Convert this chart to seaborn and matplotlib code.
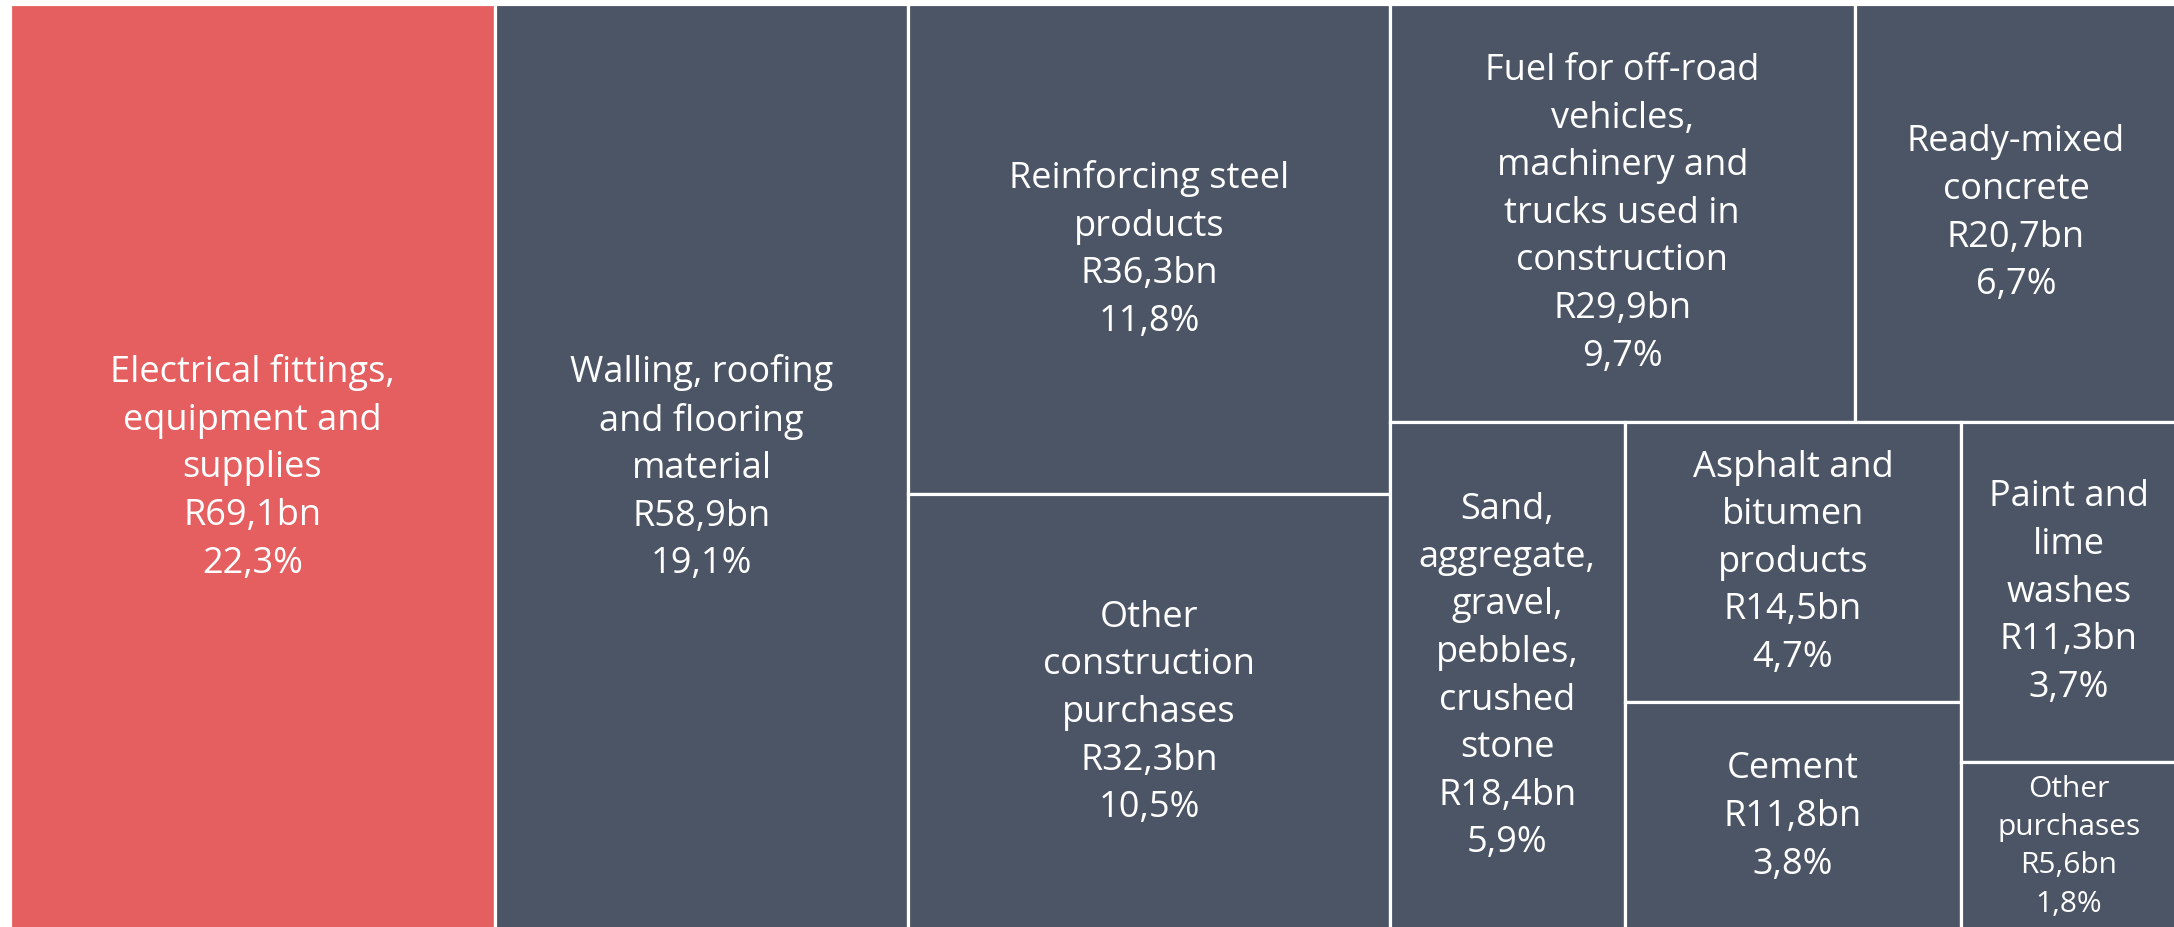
import matplotlib
matplotlib.use("Agg")
import matplotlib.pyplot as plt
from matplotlib.patches import Rectangle
import seaborn as sns

# ---- data ----
categories = [
    "Electrical fittings,\nequipment and\nsupplies",
    "Walling, roofing\nand flooring\nmaterial",
    "Reinforcing steel\nproducts",
    "Other\nconstruction\npurchases",
    "Fuel for off-road\nvehicles,\nmachinery and\ntrucks used in\nconstruction",
    "Ready-mixed\nconcrete",
    "Sand,\naggregate,\ngravel,\npebbles,\ncrushed\nstone",
    "Asphalt and\nbitumen\nproducts",
    "Cement",
    "Paint and\nlime\nwashes",
    "Other\npurchases",
]
values_bn = [69.1, 58.9, 36.3, 32.3, 29.9, 20.7, 18.4, 14.5, 11.8, 11.3, 5.6]
shares_pct = [22.3, 19.1, 11.8, 10.5, 9.7, 6.7, 5.9, 4.7, 3.8, 3.7, 1.8]
highlight = [True] + [False] * 10

# ---- treemap structure (as rendered by the source tool) ----
structure = ("h", [0, 1, ("v", [2, 3]),
                   ("v", [("h", [4, 5]),
                          ("h", [6, ("v", [7, 8]), ("v", [9, 10])])])])


def node_sum(node):
    if isinstance(node, int):
        return values_bn[node]
    return sum(node_sum(c) for c in node[1])


def layout(node, x, y, w, h, out):
    if isinstance(node, int):
        out[node] = (x, y, w, h)
        return
    kind, children = node
    tot = node_sum(node)
    pos = 0.0
    for c in children:
        f = node_sum(c) / tot
        if kind == "h":
            layout(c, x + pos * w, y, f * w, h, out)
        else:
            layout(c, x, y + pos * h, w, f * h, out)
        pos += f


sns.set_theme(style="white")
plt.rcParams["font.family"] = ["Open Sans", "DejaVu Sans"]

W_PX, H_PX = 2174, 928
fig = plt.figure(figsize=(W_PX / 100, H_PX / 100), dpi=100)
left, top = 10, 5
ax = fig.add_axes([left / W_PX, -3 / H_PX, (W_PX - left + 3) / W_PX, (H_PX - top + 3) / H_PX])
ax.set_xlim(0, W_PX - left + 3)
ax.set_ylim(H_PX - top + 3, 0)
ax.axis("off")

rects = {}
layout(structure, 0, 0, W_PX - left + 3, H_PX - top + 3, rects)

red = "#E55F60"
dark = "#4C5565"
for i, lab in enumerate(categories):
    x, y, w, h = rects[i]
    ax.add_patch(Rectangle((x, y), w, h, facecolor=red if highlight[i] else dark,
                           edgecolor="white", linewidth=2.3))
    txt = f"{lab}\nR{values_bn[i]:.1f}bn\n{shares_pct[i]:.1f}%".replace(".", ",")
    fs = 21.5 if values_bn[i] < 8 else 26
    ax.text(x + w / 2, y + h / 2, txt, ha="center", va="center", color="white",
            fontsize=fs, linespacing=1.43)

fig.savefig("out.png", dpi=100, facecolor="white")
